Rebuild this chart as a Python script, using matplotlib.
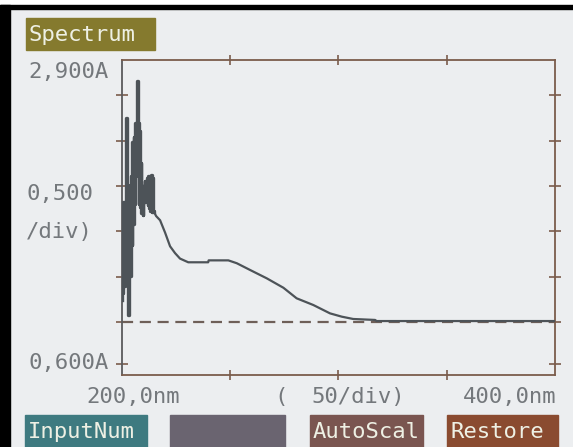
import matplotlib
matplotlib.use('Agg')
import matplotlib.pyplot as plt
from matplotlib.patches import Rectangle

# spectrum (wavelength nm, absorbance A)
noise_nm = [200.0, 200.3, 200.6, 200.9, 201.2, 201.6, 202.0, 202.4, 202.6, 202.9,
            203.1, 203.4, 203.7, 204.0, 204.3, 204.6, 204.9, 205.2, 205.5, 205.8,
            206.1, 206.4, 206.7, 207.0, 207.3, 207.5, 207.8, 208.1, 208.4, 208.7,
            209.0, 209.3, 209.6, 209.9, 210.2, 210.5, 210.8, 211.1, 211.4, 211.7,
            212.0, 212.3, 212.6, 212.9, 213.2, 213.5, 213.8, 214.1, 214.4, 214.7, 215.0]
noise_abs = [1.15, 1.51, 1.20, 1.86, 1.25, 1.70, 1.30, 2.48, 1.45, 1.82,
             1.04, 1.75, 1.35, 1.99, 1.32, 2.05, 1.55, 2.30, 1.70, 2.34,
             1.85, 2.44, 2.10, 2.40, 2.75, 2.05, 2.44, 1.85, 2.38, 1.83,
             2.15, 1.78, 1.95, 1.77, 1.98, 1.86, 2.02, 1.87, 2.01, 1.86,
             2.04, 1.84, 2.05, 1.82, 2.04, 1.80, 2.06, 1.79, 2.04, 1.80, 1.79]
smooth_nm = [215.0, 216.0, 217.8, 220.1, 222.4, 224.7, 227.0, 230.8, 240.0, 240.2,
             249.3, 253.2, 259.3, 267.0, 274.7, 280.8, 288.5, 296.2, 301.6, 306.9,
             317.0, 317.7, 400.0]
smooth_abs = [1.79, 1.76, 1.73, 1.64, 1.54, 1.49, 1.45, 1.423, 1.423, 1.437,
              1.437, 1.416, 1.367, 1.306, 1.237, 1.16, 1.111, 1.05, 1.026, 1.009,
              1.002, 0.994, 0.994]
baseline = 0.988

x_ticks = [250, 300, 350]
y_ticks = [0.680, 0.987, 1.319, 1.648, 1.980, 2.312, 2.644]

W, H = 573, 447
fig = plt.figure(figsize=(W / 100, H / 100), dpi=100, facecolor='#eceef0')

def fx(px):
    return px / W

def fy(py):
    return 1 - py / H

# screen bezel
fig.patches.append(Rectangle((0, fy(5)), 1, 5 / H, transform=fig.transFigure, color='white', zorder=0))
fig.patches.append(Rectangle((0, fy(8.5)), 1, 3.5 / H, transform=fig.transFigure, color='black', zorder=0))
fig.patches.append(Rectangle((0, 0), fx(9.5), fy(5), transform=fig.transFigure, color='black', zorder=0))

frame = '#7a5c4c'
curve = '#4d5358'
ax = fig.add_axes([fx(121.5), fy(375), fx(555) - fx(121.5), (375 - 60) / H])
ax.set_facecolor('#eceef0')
ax.plot(noise_nm, noise_abs, color=curve, lw=2.4, drawstyle='steps-mid', zorder=3)
ax.plot(smooth_nm, smooth_abs, color=curve, lw=1.6, zorder=3)
ax.axhline(baseline, color='#6e5f58', lw=1.6, ls=(0, (5, 3)), zorder=2)
ax.set_xlim(200, 400)
ax.set_ylim(0.6, 2.9)
for s in ax.spines.values():
    s.set_color(frame)
    s.set_linewidth(1.3)
ax.spines['left'].set_color('#5a5a5c')
ax.set_xticks(x_ticks)
ax.set_yticks(y_ticks)
ax.tick_params(axis='both', which='both', direction='inout', length=8, width=1.2,
               color=frame, labelleft=False, labelbottom=False,
               right=True, top=True)
ax.tick_params(axis='x', top=True, length=7)

mono = 'DejaVu Sans Mono'
txt = dict(family=mono, fontsize=16, color='#74787c', va='center')
fig.text(fx(28), fy(72), '2,900A', **txt)
fig.text(fx(26), fy(194), '0,500', **txt)
fig.text(fx(26), fy(232), '/div)', **txt)
fig.text(fx(28), fy(363), '0,600A', **txt)
fig.text(fx(86), fy(397), '200,0nm', **txt)
fig.text(fx(274), fy(397), '(', **txt)
fig.text(fx(311), fy(397), '50/div)', **txt)
fig.text(fx(463), fy(397), '400,0nm', **txt)

# soft-key labels
buttons = [
    ('Spectrum', 26, 155, 18, 50, '#857a2e'),
    ('InputNum', 25, 147, 415, 447, '#3e7a80'),
    ('', 170, 285, 415, 447, '#6a6470'),
    ('AutoScal', 310, 423, 415, 447, '#7a5550'),
    ('Restore', 447, 558, 415, 447, '#8a4b30'),
]
for label, x0, x1, y0, y1, col in buttons:
    fig.patches.append(Rectangle((fx(x0), fy(y1)), fx(x1 - x0), (y1 - y0) / H,
                                 transform=fig.transFigure, color=col, zorder=1))
    if label:
        fig.text(fx(x0 + 3), fy((y0 + y1) / 2 + 1), label, family=mono,
                 fontsize=16, color='#eef0e4', va='center', ha='left', zorder=2)

fig.savefig('out.png', dpi=100, facecolor=fig.get_facecolor())
